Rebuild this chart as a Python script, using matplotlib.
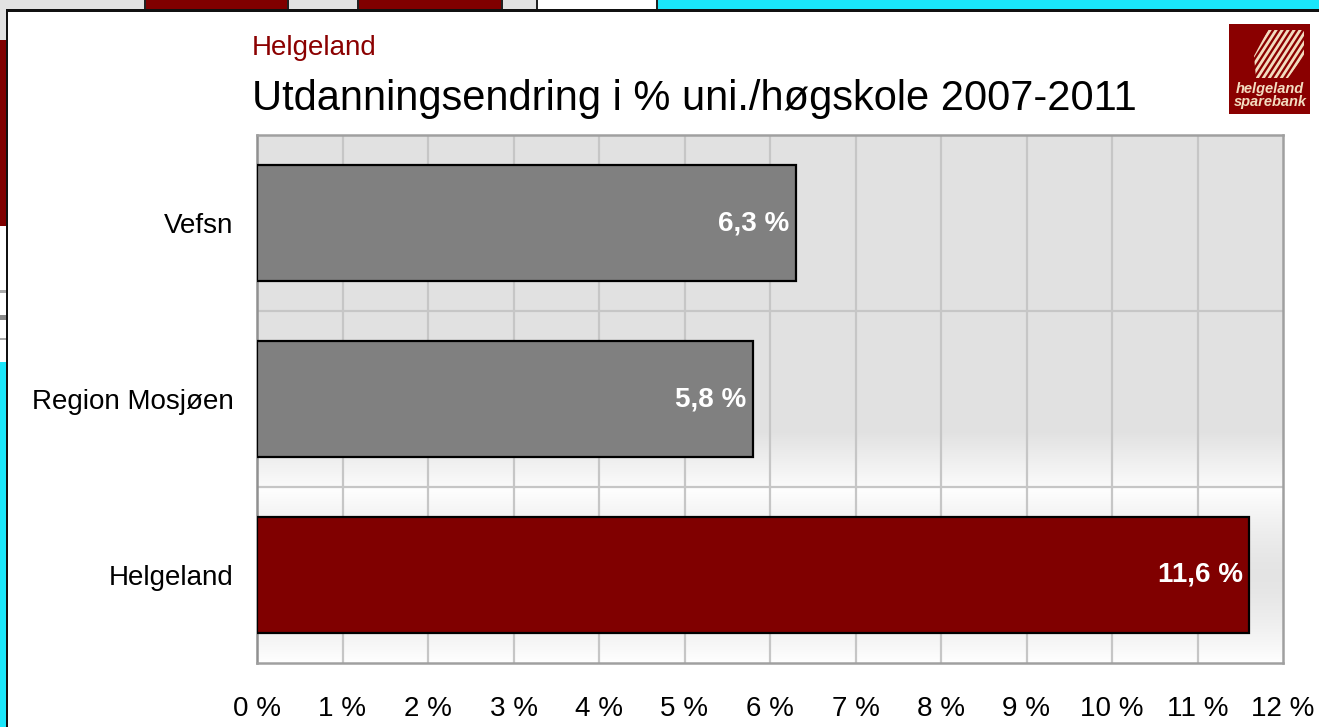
import numpy as np
import matplotlib
matplotlib.use("Agg")
import matplotlib.pyplot as plt
from matplotlib.patches import Rectangle, Polygon
from matplotlib.lines import Line2D

categories = ["Vefsn", "Region Mosjøen", "Helgeland"]
values = [6.3, 5.8, 11.6]
value_labels = ["6,3 %", "5,8 %", "11,6 %"]
bar_colors = ["#808080", "#808080", "#800000"]
xticks = list(range(0, 13))
xtick_labels = [f"{t} %" for t in xticks]

FONT = ["Liberation Sans", "DejaVu Sans"]
W, H = 1319, 727
fig = plt.figure(figsize=(W / 100, H / 100), dpi=100)
fig.patch.set_facecolor("white")

def fx(x):
    return x / W

def fy(y):
    return 1 - y / H

def prect(x0, y0, x1, y1, **kw):
    r = Rectangle((fx(x0), fy(y1)), fx(x1) - fx(x0), fy(y0) - fy(y1),
                  transform=fig.transFigure, **kw)
    fig.add_artist(r)
    return r

# --- screenshot surroundings ---
prect(0, 0, 145, 10, facecolor="#e2e2e2", edgecolor="none")
prect(145, 0, 288, 10, facecolor="#800000", edgecolor="none")
prect(288, 0, 358, 10, facecolor="#e2e2e2", edgecolor="none")
prect(358, 0, 502, 10, facecolor="#800000", edgecolor="none")
prect(502, 0, 537, 10, facecolor="#e2e2e2", edgecolor="none")
prect(537, 0, 657, 10, facecolor="white", edgecolor="none")
prect(657, 0, W, 10, facecolor="#1ae6fa", edgecolor="none")
for xs in (145, 288, 358, 502, 537, 657):
    prect(xs - 1, 0, xs + 1, 10, facecolor="#222222", edgecolor="none")
prect(0, 0, 6, 40, facecolor="#e2e2e2", edgecolor="none")
prect(0, 40, 6, 226, facecolor="#800000", edgecolor="none")
prect(0, 226, 6, 362, facecolor="white", edgecolor="none")
prect(0, 290, 6, 293, facecolor="#aaaaaa", edgecolor="none")
prect(0, 315, 6, 320, facecolor="#888888", edgecolor="none")
prect(0, 338, 6, 340, facecolor="#aaaaaa", edgecolor="none")
prect(0, 362, 6, H, facecolor="#1ae6fa", edgecolor="none")
# window frame
prect(6, 10, 8, H, facecolor="#111111", edgecolor="none")
prect(6, 9, W, 12, facecolor="#111111", edgecolor="none")

# --- main axes ---
ax_left, ax_right, ax_top, ax_bottom = 257, 1283, 135, 663
ax = fig.add_axes([fx(ax_left), fy(ax_bottom), fx(ax_right) - fx(ax_left),
                   fy(ax_top) - fy(ax_bottom)])
n = len(categories)
ypos = np.arange(n)

# gradient background (style only)
rows = np.arange(ax_top, ax_bottom)
shade = np.ones_like(rows, dtype=float)
band = (ax_bottom - ax_top) / 3.0
g = 0.886
for i, r in enumerate(rows):
    if r < ax_top + 2 * band - 55:
        shade[i] = g
    elif r < ax_top + 2 * band:
        t = (r - (ax_top + 2 * band - 55)) / 55
        shade[i] = g + (0.985 - g) * t
    else:
        c = ax_top + 2.5 * band
        d = abs(r - c) / (band / 2)
        shade[i] = g + 0.01 + (1.0 - g - 0.01) * min(1, d ** 1.5)
img = np.repeat(shade[:, None], 10, axis=1)
img = np.stack([img, img, img], axis=-1)
ax.imshow(img, extent=[0, 12, n - 0.5, -0.5], aspect="auto", zorder=0,
          interpolation="bilinear")

ax.set_xlim(0, 12)
ax.set_ylim(n - 0.5, -0.5)

for x in xticks[1:-1]:
    ax.axvline(x, color="#c6c6c6", lw=1.6, zorder=1)
for yb in [0.5, 1.5]:
    ax.axhline(yb, color="#c6c6c6", lw=1.6, zorder=1)

ax.barh(ypos, values, height=0.66, color=bar_colors, edgecolor="black",
        linewidth=1.6, zorder=3)

for y, v, lab in zip(ypos, values, value_labels):
    ax.annotate(lab, (v, y), xytext=(-4.5, 0), textcoords="offset points",
                ha="right", va="center", color="white", fontsize=20,
                fontweight="bold", family=FONT, zorder=4)

ax.set_yticks(ypos)
ax.set_yticklabels(categories, fontsize=20, family=FONT)
ax.set_xticks(xticks)
ax.set_xticklabels(xtick_labels, fontsize=20, family=FONT)
ax.tick_params(axis="both", length=0)
ax.tick_params(axis="y", pad=17)
ax.tick_params(axis="x", pad=24)
for s in ax.spines.values():
    s.set_color("#a0a0a0")
    s.set_linewidth(1.8)
ax.spines["left"].set_color("#909090")

# titles
fig.text(fx(252), fy(48), "Helgeland", color="#8b0000", fontsize=20,
         va="center", ha="left", family=FONT)
fig.text(fx(252), fy(99), "Utdanningsendring i % uni./høgskole 2007-2011", color="black",
         fontsize=30, va="center", ha="left", family=FONT)

# logo
prect(1229, 24, 1310, 114, facecolor="#8a0000", edgecolor="none")
clip = Polygon([(fx(1268), fy(30)), (fx(1304), fy(30)), (fx(1304), fy(56)),
                (fx(1288), fy(78)), (fx(1256), fy(78)), (fx(1254), fy(56))],
               closed=True, transform=fig.transFigure, facecolor="none", edgecolor="none")
fig.add_artist(clip)
for k in range(11):
    x_top = 1322 - k * 6
    ln = Line2D([fx(x_top), fx(x_top - 36)], [fy(24), fy(80)],
                transform=fig.transFigure, color="#f3dcc0", lw=2.0)
    ln.set_clip_path(clip)
    fig.add_artist(ln)
fig.text(fx(1270), fy(89), "helgeland", color="#f3dcc0", fontsize=10.5, fontweight="bold",
         style="italic", ha="center", va="center", family=FONT)
fig.text(fx(1270), fy(102), "sparebank", color="#f3dcc0", fontsize=10.5, fontweight="bold",
         style="italic", ha="center", va="center", family=FONT)

fig.savefig("out.png", dpi=100, facecolor=fig.get_facecolor())
